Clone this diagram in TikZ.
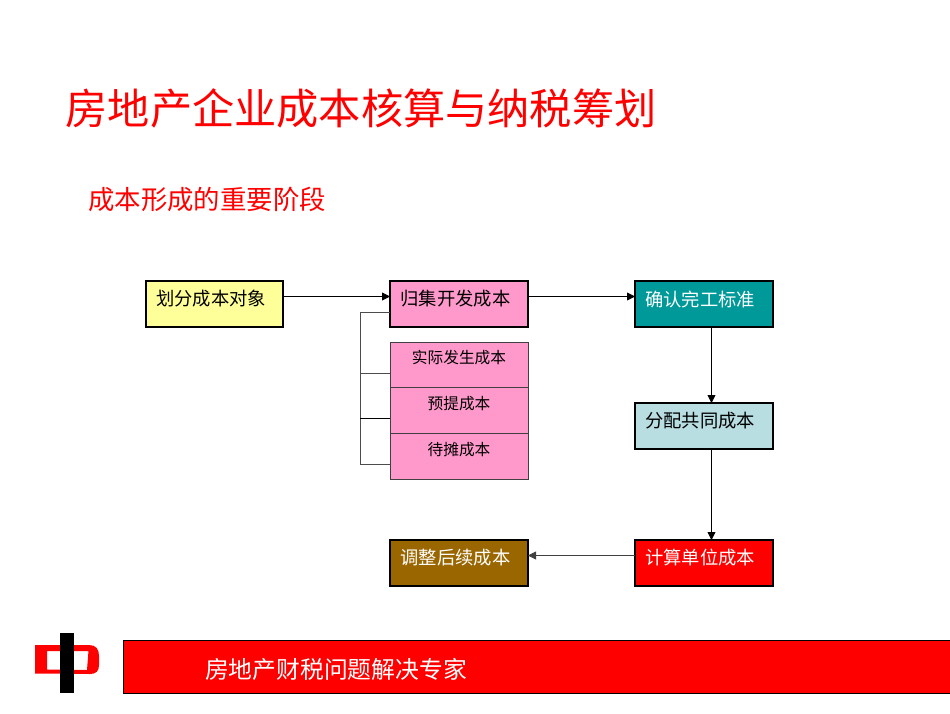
\documentclass[tikz,border=0pt]{standalone}
\usepackage{fontspec}
\setmainfont{Noto Sans CJK SC}
\usetikzlibrary{arrows.meta}
\definecolor{cyellow}{RGB}{255,255,153}
\definecolor{cpink}{RGB}{255,153,204}
\definecolor{cteal}{RGB}{0,153,153}
\definecolor{cpale}{RGB}{184,222,226}
\definecolor{cbrown}{RGB}{153,102,0}
\definecolor{cred}{RGB}{255,0,0}
\tikzset{
  flowbox/.style={draw=black,line width=2pt,minimum width=138pt,minimum height=46pt,inner sep=0pt,outer sep=0pt,anchor=north west},
  subbox/.style={draw=black!75,line width=0.7pt,fill=cpink,minimum width=138pt,minimum height=45.8pt,inner sep=0pt,outer sep=0pt,anchor=north west},
  boxtext/.style={font=\fontsize{18.3}{20}\selectfont,inner sep=0pt,anchor=center},
  subtext/.style={font=\fontsize{15.7}{18}\selectfont,inner sep=0pt,anchor=center},
  flowarrow/.style={line width=0.8pt,-{Triangle[length=8pt,width=8pt]}},
  bracket/.style={line width=0.8pt,draw=black!70},
}
\begin{document}
\begin{tikzpicture}[x=1pt,y=-1pt]
\useasboundingbox (0,0) rectangle (950,713);
\node[inner sep=0pt,anchor=center,text=cred,font=\fontsize{42.2}{46}\selectfont] (title) at (361,108) {房地产企业成本核算与纳税筹划};
\node[inner sep=0pt,anchor=center,text=cred,font=\fontsize{26.4}{30}\selectfont] (sub) at (207,199) {成本形成的重要阶段};

\node[flowbox,fill=cyellow,minimum width=137pt] (a) at (146,281) {};
\node[flowbox,fill=cpink] (b) at (390,281) {};
\node[flowbox,fill=cteal] (c) at (635,281) {};
\node[flowbox,fill=cpale] (d) at (635,403) {};
\node[flowbox,fill=cred] (e) at (635,540) {};
\node[flowbox,fill=cbrown] (f) at (390,540) {};
\node[subbox] (s1) at (390,342) {};
\node[subbox] (s2) at (390,387.8) {};
\node[subbox] (s3) at (390,433.6) {};

\node[boxtext] (ta) at (211,299) {划分成本对象};
\node[boxtext] (tb) at (455.5,299) {归集开发成本};
\node[boxtext,text=white] (tc) at (700,299) {确认完工标准};
\node[boxtext] (td) at (700,421) {分配共同成本};
\node[boxtext,text=white] (te) at (700,558) {计算单位成本};
\node[boxtext,text=white] (tf) at (455.5,558) {调整后续成本};
\node[subtext] (t1) at (459,358) {实际发生成本};
\node[subtext] (t2) at (459,404) {预提成本};
\node[subtext] (t3) at (459,450) {待摊成本};

\draw[flowarrow] (a.east|-0,296.5) -- (b.west|-0,296.5);
\draw[flowarrow] (b.east|-0,296.5) -- (c.west|-0,296.5);
\draw[flowarrow] (711.5,327) -- (711.5,403);
\draw[flowarrow] (711.5,449) -- (711.5,540);
\draw[flowarrow,draw=black!75,fill=black] (e.west|-0,555.5) -- (f.east|-0,555.5);

\coordinate (bk) at (360,312);
\draw[bracket] (b.west|-bk) -- (bk) -- (360,464) -- (s3.west|-0,464);
\draw[bracket] (360,373) -- (s1.west|-0,373);
\draw[bracket,draw=black] (360,418.5) -- (s2.west|-0,418.5);

\node[draw=black,line width=0.8pt,fill=cred,minimum width=827pt,minimum height=52.5pt,inner sep=0pt,outer sep=0pt,anchor=north west] (bar) at (123,640.5) {};
\node[inner sep=0pt,anchor=center,text=white,font=\fontsize{23.8}{26}\selectfont] (bartext) at (336,669) {房地产财税问题解决专家};

% logo
\fill[cred,even odd rule] (35,645) -- (89,645) .. controls (96,645) and (99,649) .. (99,656) -- (99,665) .. controls (99,671) and (96,674) .. (90,674) -- (35,673.5) -- cycle
  (47,651) -- (88.5,651) -- (87,670) -- (47,669.5) -- cycle;
\fill[black] (60,633) rectangle (74,693);
\end{tikzpicture}
\end{document}
